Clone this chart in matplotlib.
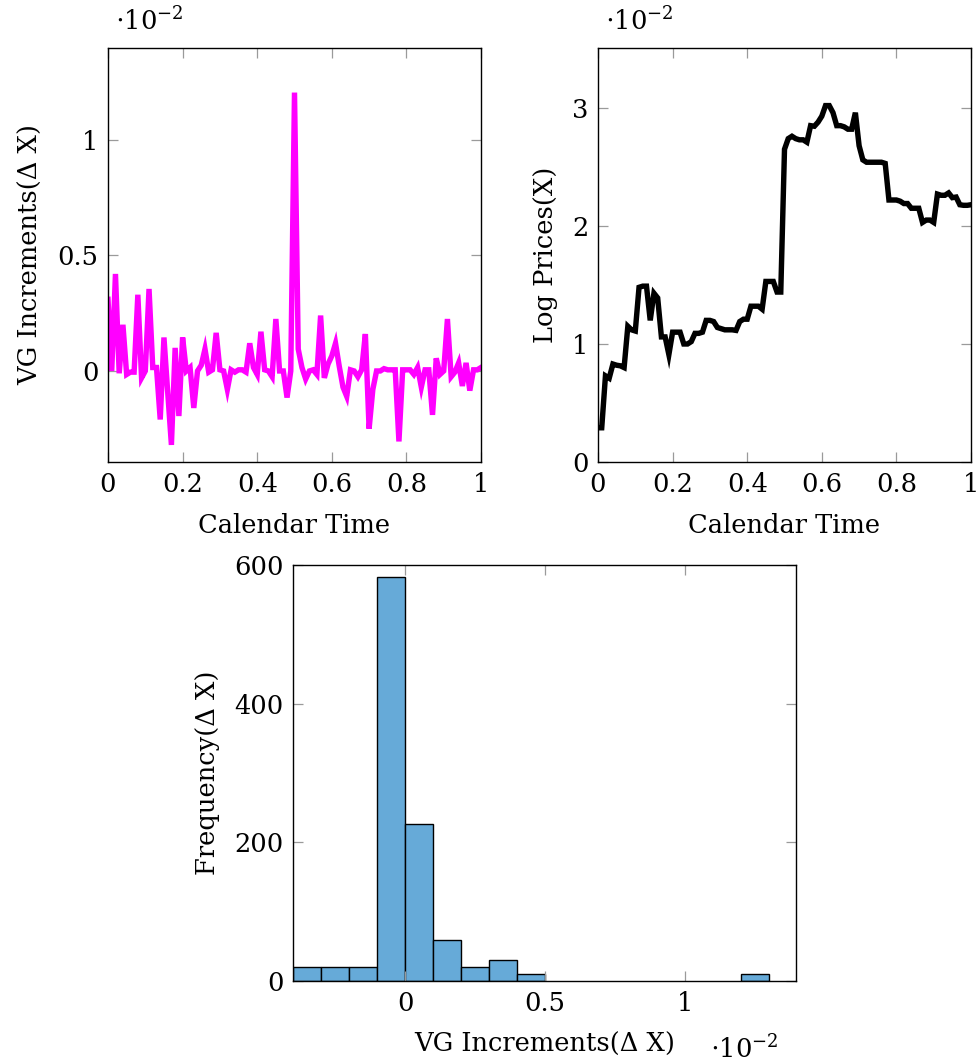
import numpy as np
import matplotlib
matplotlib.use('Agg')
import matplotlib.pyplot as plt

plt.rcParams['font.family'] = ['DejaVu Serif']
plt.rcParams['mathtext.fontset'] = 'dejavuserif'
plt.rcParams['font.size'] = 18.5

# time grid (calendar time), 101 samples
t = np.linspace(0, 1, 101)

# VG increments, in units of 1e-2
increments = [
    0.31, 0.0, 0.42, -0.01, 0.20, -0.015, -0.005, -0.005, 0.33, -0.03,
    0.0, 0.355, 0.015, 0.015, -0.21, 0.145, -0.09, -0.32, 0.10, -0.195,
    0.145, 0.0, 0.015, -0.16, 0.0, 0.025, 0.095, -0.005, 0.005, 0.165,
    0.005, 0.0, -0.08, 0.005, -0.005, 0.005, 0.005, -0.005, 0.12, 0.015,
    -0.015, 0.17, 0.005, 0.0, -0.025, 0.225, 0.0, 0.0, -0.115, 0.0,
    1.205, 0.095, 0.015, -0.035, 0.0, 0.005, -0.015, 0.24, -0.03, 0.03,
    0.065, 0.12, 0.02, -0.07, -0.11, 0.005, 0.0, -0.025, 0.005, 0.16,
    -0.25, -0.08, 0.0, 0.0, 0.01, 0.005, 0.005, 0.005, -0.305, 0.005,
    0.005, 0.005, -0.015, 0.015, -0.07, 0.005, 0.005, -0.19, 0.055, -0.015,
    0.0, 0.225, -0.025, -0.005, 0.035, -0.065, 0.035, -0.085, 0.005, 0.005,
    0.015,
]

# log prices, in units of 1e-2
log_prices = [
    0.29, 0.29, 0.73, 0.71, 0.83, 0.82, 0.815, 0.80, 1.15, 1.12,
    1.11, 1.48, 1.49, 1.49, 1.20, 1.43, 1.39, 1.06, 1.06, 0.91,
    1.10, 1.10, 1.10, 1.00, 1.00, 1.02, 1.09, 1.09, 1.10, 1.20,
    1.20, 1.19, 1.14, 1.13, 1.12, 1.12, 1.12, 1.115, 1.19, 1.21,
    1.21, 1.32, 1.32, 1.32, 1.295, 1.53, 1.53, 1.53, 1.44, 1.44,
    2.65, 2.74, 2.76, 2.74, 2.73, 2.73, 2.71, 2.85, 2.845, 2.88,
    2.93, 3.02, 3.02, 2.96, 2.85, 2.85, 2.84, 2.82, 2.82, 2.96,
    2.68, 2.56, 2.54, 2.54, 2.54, 2.54, 2.54, 2.53, 2.22, 2.22,
    2.22, 2.21, 2.19, 2.19, 2.15, 2.15, 2.15, 2.03, 2.05, 2.05,
    2.03, 2.27, 2.26, 2.26, 2.28, 2.24, 2.245, 2.18, 2.175, 2.175,
    2.18,
]

# histogram of increments (1e-2 units)
hist_left = [-0.4, -0.3, -0.2, -0.1, 0.0, 0.1, 0.2, 0.3, 0.4, 1.2]
hist_counts = [20, 20, 20, 583, 227, 59, 20, 30, 10, 10]
bin_width = 0.1

W, H = 979, 1063
fig = plt.figure(figsize=(W / 100, H / 100), dpi=100)


def box(x0, y0, x1, y1):
    return [x0 / W, 1 - y1 / H, (x1 - x0) / W, (y1 - y0) / H]


def style(ax):
    ax.tick_params(direction='in', length=7, width=0.9, color='#9a9a9a',
                   top=True, right=True, pad=7, labelsize=18.5)
    for s in ax.spines.values():
        s.set_linewidth(1.0)
        s.set_color('black')


ax1 = fig.add_axes(box(108, 48, 481, 462))
ax1.plot(t, increments, color='#ff00ff', lw=3.9, solid_joinstyle='miter')
ax1.set_xlim(0, 1)
ax1.set_ylim(-0.394, 1.398)
ax1.set_xticks([0, 0.2, 0.4, 0.6, 0.8, 1])
ax1.set_xticklabels(['0', '0.2', '0.4', '0.6', '0.8', '1'])
ax1.set_yticks([0, 0.5, 1])
ax1.set_yticklabels(['0', '0.5', '1'])
ax1.set_xlabel('Calendar Time', labelpad=11.5)
ax1.set_ylabel('VG Increments(Δ X)', labelpad=10)
ax1.text(0.02, 1.03, r'$\cdot10^{-2}$', transform=ax1.transAxes,
         ha='left', va='bottom')
style(ax1)

ax2 = fig.add_axes(box(598, 48, 971, 462))
ax2.plot(t, log_prices, color='black', lw=3.9, solid_joinstyle='miter')
ax2.set_xlim(0, 1)
ax2.set_ylim(0, 3.508)
ax2.set_xticks([0, 0.2, 0.4, 0.6, 0.8, 1])
ax2.set_xticklabels(['0', '0.2', '0.4', '0.6', '0.8', '1'])
ax2.set_yticks([0, 1, 2, 3])
ax2.set_yticklabels(['0', '1', '2', '3'])
ax2.set_xlabel('Calendar Time', labelpad=11.5)
ax2.set_ylabel('Log Prices(X)', labelpad=10)
ax2.text(0.02, 1.03, r'$\cdot10^{-2}$', transform=ax2.transAxes,
         ha='left', va='bottom')
style(ax2)

ax3 = fig.add_axes(box(293, 565, 796, 981))
ax3.bar(hist_left, hist_counts, width=bin_width, align='edge',
        color='#66aad8', edgecolor='black', linewidth=1.0)
ax3.set_xlim(-0.4, 1.396)
ax3.set_ylim(0, 600)
ax3.set_xticks([0, 0.5, 1])
ax3.set_xticklabels(['0', '0.5', '1'])
ax3.set_yticks([0, 200, 400, 600])
ax3.set_yticklabels(['0', '200', '400', '600'])
ax3.set_xlabel('VG Increments(Δ X)', labelpad=11.5)
ax3.set_ylabel('Frequency(Δ X)', labelpad=10)
ax3.text(0.83, -0.13, r'$\cdot10^{-2}$', transform=ax3.transAxes,
         ha='left', va='top')
style(ax3)

fig.savefig('out.png', dpi=100)
